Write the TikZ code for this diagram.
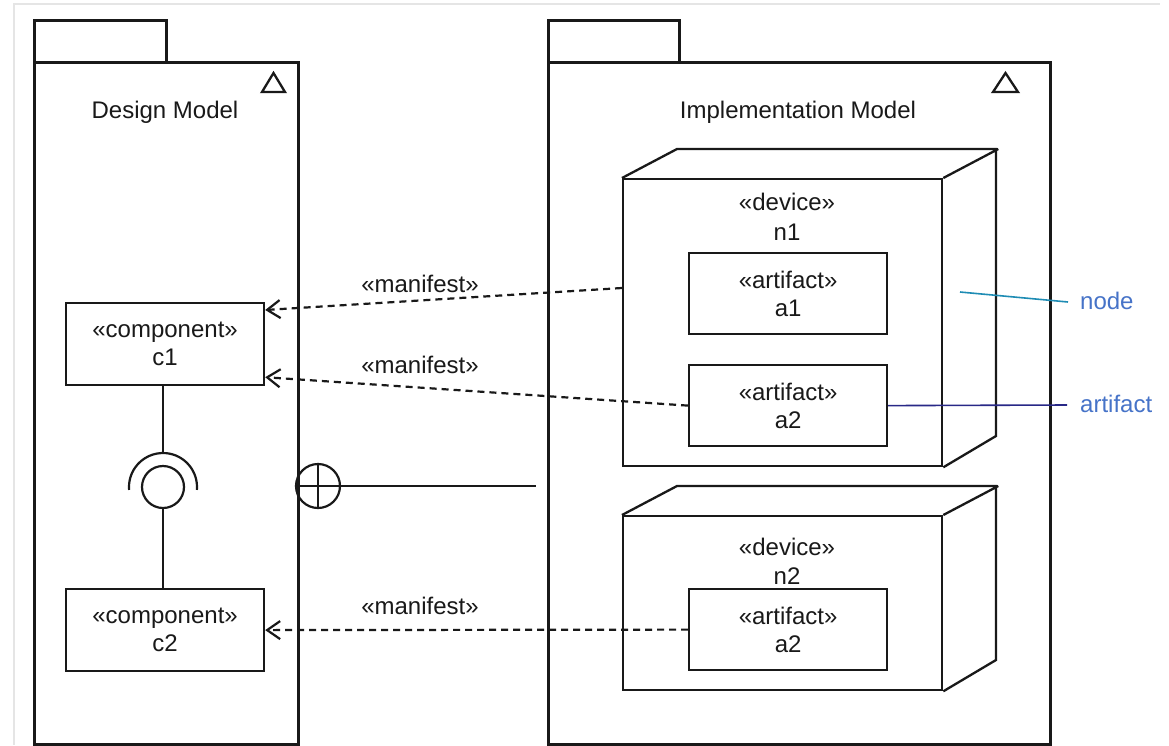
\documentclass[tikz,border=0pt]{standalone}
\usepackage{fontspec}
\setmainfont{Liberation Sans}
\usetikzlibrary{arrows.meta,calc}
\definecolor{notetext}{RGB}{70,115,200}
\definecolor{nodeline}{RGB}{30,140,180}
\definecolor{artline}{RGB}{40,40,135}
\definecolor{ink}{RGB}{25,25,25}
\begin{document}
\begin{tikzpicture}[x=1pt,y=-1pt, color=ink,
  txt/.style={font=\fontsize{24}{29}\selectfont, inner sep=0pt},
  pkg/.style={draw, line width=2.5pt, anchor=north west, inner sep=0pt},
  elem/.style={draw, line width=2.2pt, minimum width=198pt, minimum height=82pt,
    inner sep=0pt, align=center, font=\fontsize{24}{28}\selectfont},
  devbox/.style={draw, line width=2.3pt, anchor=north west, inner sep=0pt},
  wire/.style={line width=2.2pt},
  manifest/.style={line width=2.2pt, dash pattern=on 7pt off 5pt,
    -{Straight Barb[length=13pt,width=18pt,line width=2.2pt]}},
  note/.style={font=\fontsize{24}{29}\selectfont, inner sep=0pt, text=notetext, anchor=base west},
]
\fill[white] (0,0) rectangle (1169,745);
\useasboundingbox (0,0) rectangle (1169,745);

% faint outer frame
\draw[gray!20, line width=2pt] (14,745) -- (14,4) -- (1160,4);

% ---------- Design Model package ----------
\node[pkg, minimum width=132pt, minimum height=42pt] (dtab) at (33,19) {};
\node[pkg, minimum width=264pt, minimum height=682pt] (dpkg) at (33,61) {};
\draw[line width=2.3pt, line join=miter] (262,92) -- (285,92) -- (273.5,73) -- cycle;
\node[txt, anchor=base] (dname) at (165,118) {Design Model};

% ---------- Implementation Model package ----------
\node[pkg, minimum width=131pt, minimum height=42pt] (itab) at (547,19) {};
\node[pkg, minimum width=502pt, minimum height=682pt] (ipkg) at (547,61) {};
\draw[line width=2.3pt, line join=miter] (993,92) -- (1018,92) -- (1005.5,73) -- cycle;
\node[txt, anchor=base] (iname) at (798,118) {Implementation Model};

% ---------- components ----------
\node[elem, anchor=north west] (c1) at (65,302) {«component»\\c1};
\node[elem, anchor=north west] (c2) at (65,588) {«component»\\c2};

% ball-and-socket assembly between c1 and c2
\node[draw, circle, line width=2.2pt, minimum size=42pt, inner sep=0pt] (ball) at (163,487) {};
\draw[wire] (163,487) ++(-5:34pt) arc[start angle=-5, end angle=185, radius=34pt];
\coordinate (sockettop) at (163,453);
\draw[wire] (c1.south -| sockettop) -- (sockettop);
\draw[wire] (ball.south) -- (c2.north -| ball.south);

% containment between the packages
\node[draw, circle, line width=2.2pt, minimum size=44pt, inner sep=0pt] (nest) at (318,486) {};
\draw[wire] (nest.north) -- (nest.south) (nest.west) -- (nest.east);
\coordinate (nestend) at (536,486);
\draw[wire] (nest.east) -- (nestend);

% ---------- device n1 ----------
\node[devbox, minimum width=319pt, minimum height=287pt] (n1) at (622,178) {};
\draw[line width=2.3pt, line join=miter] (n1.north west) -- ++(55,-29) -- ++(319,0) -- ++(0,287) -- (n1.south east)
  (n1.north east) -- ++(55,-29);
\node[txt, anchor=base] (n1st) at (787,210) {«device»};
\node[txt, anchor=base] (n1nm) at (787,240) {n1};
\node[elem, anchor=north west, minimum height=81pt] (a1) at (688,252) {«artifact»\\a1};
\node[elem, anchor=north west, minimum height=81pt] (a2) at (688,364) {«artifact»\\a2};

% ---------- device n2 ----------
\node[devbox, minimum width=319pt, minimum height=174pt] (n2) at (622,515) {};
\draw[line width=2.3pt, line join=miter] (n2.north west) -- ++(55,-29) -- ++(319,0) -- ++(0,174) -- (n2.south east)
  (n2.north east) -- ++(55,-29);
\node[txt, anchor=base] (n2st) at (787,555) {«device»};
\node[txt, anchor=base] (n2nm) at (787,584) {n2};
\node[elem, anchor=north west, minimum height=81pt] (b2) at (688,588) {«artifact»\\a2};

% ---------- manifest dependencies ----------
\coordinate (m1from) at ($(n1.north west)+(0,110)$);
\coordinate (m1to) at ($(c1.north east)+(0,8)$);
\draw[manifest] (m1from) -- (m1to);
\node[txt, anchor=base] (m1lab) at (420,292) {«manifest»};

\coordinate (m2to) at ($(c1.south east)+(0,-9)$);
\draw[manifest] (a2.west) -- (m2to);
\node[txt, anchor=base] (m2lab) at (420,373) {«manifest»};

\draw[manifest] (b2.west) -- (c2.east);
\node[txt, anchor=base] (m3lab) at (420,614) {«manifest»};

% ---------- annotations ----------
\coordinate (nodeptr) at (960,292);
\coordinate (nodeend) at (1068,302);
\draw[nodeline, line width=1.6pt] (nodeptr) -- (nodeend);
\node[note] (nodenote) at (1080,309) {node};

\coordinate (artend) at (1067,405);
\draw[artline, line width=1.6pt] (a2.east) -- (artend);
\node[note] (artnote) at (1080,412) {artifact};
\end{tikzpicture}
\end{document}
